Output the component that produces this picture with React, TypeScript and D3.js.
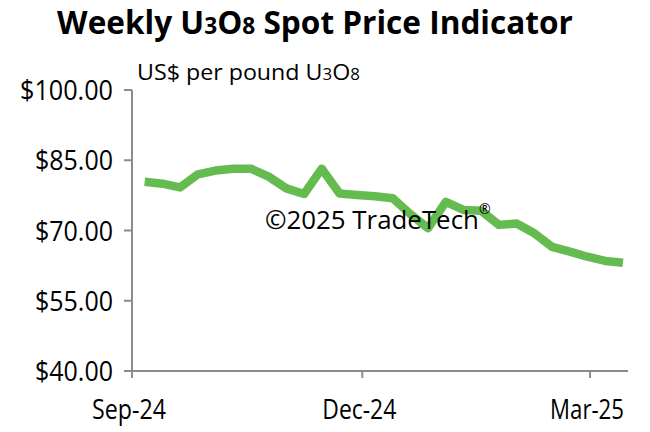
import React, { useLayoutEffect, useRef, useState } from "react";
import * as d3 from "d3";

const dates: string[] = [
  "2024-09-06", "2024-09-13", "2024-09-20", "2024-09-27",
  "2024-10-04", "2024-10-11", "2024-10-18", "2024-10-25",
  "2024-11-01", "2024-11-08", "2024-11-15", "2024-11-22", "2024-11-29",
  "2024-12-06", "2024-12-13", "2024-12-20", "2024-12-27",
  "2025-01-03", "2025-01-10", "2025-01-17", "2025-01-24", "2025-01-31",
  "2025-02-07", "2025-02-14", "2025-02-21", "2025-02-28",
  "2025-03-07", "2025-03-14",
];
const prices: number[] = [
  80.4, 80.0, 79.2, 82.0,
  82.8, 83.2, 83.2, 81.5,
  79.0, 77.8, 83.2, 77.9, 77.6,
  77.3, 76.9, 73.5, 70.5,
  76.1, 74.4, 74.2, 71.2, 71.5,
  69.4, 66.5, 65.5, 64.4,
  63.5, 63.1,
];
const yTicks: number[] = [40, 55, 70, 85, 100];
const xTickDates: string[] = ["2024-09-01", "2024-12-01", "2025-03-01"];
const xTickLabels: string[] = ["Sep-24", "Dec-24", "Mar-25"];
const xDomain: string[] = ["2024-09-01", "2025-03-16"];

const FONT = "'Open Sans', 'Noto Sans', sans-serif";

type FitProps = {
  x: number;
  y: number;
  width: number;
  anchor: "start" | "middle" | "end";
  fontSize: number;
  fontWeight?: number;
  children: React.ReactNode;
};

function FitText({ x, y, width, anchor, fontSize, fontWeight, children }: FitProps) {
  const ref = useRef<SVGTextElement>(null);
  const [sx, setSx] = useState(1);
  useLayoutEffect(() => {
    if (ref.current) {
      const w = ref.current.getBBox().width;
      if (w > 0) setSx(width / w);
    }
  }, [width]);
  return (
    <g transform={`translate(${x},${y}) scale(${sx},1)`}>
      <text ref={ref} x={0} y={0} textAnchor={anchor} fontSize={fontSize} fontWeight={fontWeight} fill="#000">
        {children}
      </text>
    </g>
  );
}

export default function App() {
  const x = d3.scaleUtc().domain(xDomain.map((d) => new Date(d))).range([132, 628]);
  const y = d3.scaleLinear().domain([40, 100]).range([371, 90]);
  const data = dates.map((d, i) => ({ date: new Date(d), v: prices[i] }));
  const line = d3
    .line<{ date: Date; v: number }>()
    .x((d) => x(d.date))
    .y((d) => y(d.v));
  const fmt = (v: number) => "$" + v.toFixed(2);
  const axisColor = "#8c8c8c";

  return (
    <svg
      width={650}
      height={432}
      style={{ position: "absolute", left: 0, top: 0, background: "#fff" }}
      fontFamily={FONT}
    >
      <rect width={650} height={432} fill="#fff" />
      <FitText x={315} y={34} width={516} anchor="middle" fontSize={32} fontWeight={700}>
        Weekly U<tspan fontSize={23}>3</tspan>O<tspan fontSize={23}>8</tspan> Spot Price Indicator
      </FitText>
      <FitText x={137} y={80} width={223} anchor="start" fontSize={22}>
        US$ per pound U<tspan fontSize={16}>3</tspan>O<tspan fontSize={16}>8</tspan>
      </FitText>

      {/* y axis */}
      <line x1={132} x2={132} y1={y(100)} y2={y(40) + 7} stroke={axisColor} strokeWidth={2} />
      {yTicks.map((t) => {
        const label = fmt(t);
        const w = label.length === 7 ? 93 : 78;
        return (
          <g key={t}>
            <line x1={124} x2={132} y1={y(t)} y2={y(t)} stroke={axisColor} strokeWidth={2} />
            <FitText x={113} y={y(t) + 10} width={w} anchor="end" fontSize={27}>
              {label}
            </FitText>
          </g>
        );
      })}

      {/* x axis */}
      <line x1={124} x2={628} y1={y(40)} y2={y(40)} stroke={axisColor} strokeWidth={2} />
      {xTickDates.map((d, i) => (
        <g key={d}>
          <line x1={x(new Date(d))} x2={x(new Date(d))} y1={y(40)} y2={y(40) + 7} stroke={axisColor} strokeWidth={2} />
          <FitText x={x(new Date(d)) - 3} y={419} width={74} anchor="middle" fontSize={27}>
            {xTickLabels[i]}
          </FitText>
        </g>
      ))}

      <path d={line(data) || ""} fill="none" stroke="#64bb4f" strokeWidth={8.5} strokeLinejoin="round" strokeLinecap="butt" />

      <FitText x={265} y={229} width={214} anchor="start" fontSize={26}>
        ©2025 TradeTech
      </FitText>
      <text x={479} y={214} fontSize={14} fill="#000">®</text>
    </svg>
  );
}
